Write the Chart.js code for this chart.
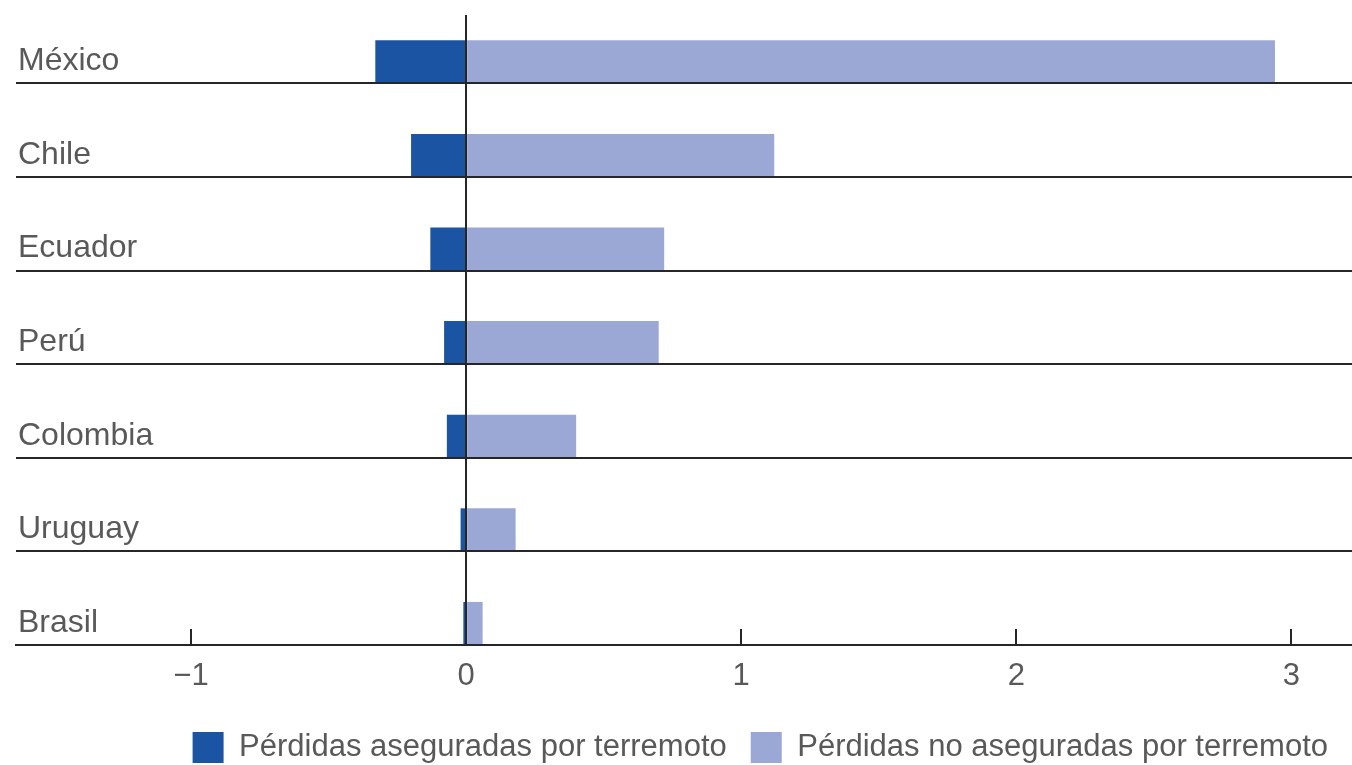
<!DOCTYPE html>
<html lang="es">
<head>
<meta charset="utf-8">
<title>Pérdidas por terremoto</title>
<script src="https://cdn.jsdelivr.net/npm/chart.js@4.4.1/dist/chart.umd.min.js"></script>
<style>
  html, body { margin: 0; padding: 0; background: #fff; }
  #wrap { width: 1352px; height: 765px; }
</style>
</head>
<body>
<div id="wrap"><canvas id="losses"></canvas></div>
<script>
const countries = ["México", "Chile", "Ecuador", "Perú", "Colombia", "Uruguay", "Brasil"];
const insured = [-0.33, -0.20, -0.13, -0.08, -0.07, -0.02, -0.01];
const uninsured = [2.94, 1.12, 0.72, 0.70, 0.40, 0.18, 0.06];
const xTicks = [-1, 0, 1, 2, 3];

const lineColor = "#262626";
const textColor = "#595959";

Chart.defaults.font.family = '"Liberation Sans", Arial, sans-serif';
Chart.defaults.color = textColor;

// bars sit on index i, the row line runs along the bottom edge of each bar
const barShare = 0.46;

new Chart(document.getElementById("losses"), {
    type: "bar",
    data: {
        datasets: [
            {
                label: "Pérdidas aseguradas por terremoto",
                data: countries.map((c, i) => ({ x: insured[i], y: i })),
                backgroundColor: "#1c54a4",
                borderWidth: 0,
            },
            {
                label: "Pérdidas no aseguradas por terremoto",
                data: countries.map((c, i) => ({ x: uninsured[i], y: i })),
                backgroundColor: "#9ba8d5",
                borderWidth: 0,
            },
        ],
    },
    options: {
        indexAxis: "y",
        responsive: true,
        maintainAspectRatio: false,
        animation: false,
        barPercentage: barShare,
        categoryPercentage: 1,
        layout: {
            padding: { top: 15, left: 16, right: 0, bottom: -8 },
        },
        plugins: {
            tooltip: { enabled: false },
            legend: {
                position: "bottom",
                align: "end",
                labels: {
                    boxWidth: 31,
                    boxHeight: 31,
                    padding: 24,
                    color: textColor,
                    font: { size: 31 },
                },
            },
        },
        scales: {
            x: {
                type: "linear",
                stacked: true,
                min: -1.636,
                max: 3.22,
                afterBuildTicks: (scale) => {
                    scale.ticks = xTicks.map((v) => ({ value: v }));
                },
                afterFit: (scale) => {
                    scale.height = 63;
                },
                border: { display: true, color: lineColor, width: 2, z: 1 },
                grid: {
                    z: 1,
                    lineWidth: 2,
                    color: (ctx) => (ctx.tick && ctx.tick.value === 0 ? lineColor : "rgba(0,0,0,0)"),
                    drawTicks: true,
                    tickLength: -16,
                    tickColor: lineColor,
                    tickWidth: 2,
                },
                ticks: {
                    autoSkip: false,
                    padding: 29,
                    color: textColor,
                    font: { size: 31 },
                    callback: (v) => (v < 0 ? "\u2212" + Math.abs(v) : String(v)),
                },
            },
            y: {
                type: "linear",
                stacked: true,
                reverse: true,
                offset: false,
                min: -0.5,
                max: countries.length - 1 + barShare / 2,
                afterBuildTicks: (scale) => {
                    scale.ticks = countries.map((c, i) => ({ value: i + barShare / 2 }));
                },
                afterFit: (scale) => {
                    scale.width = 0;
                    scale.paddingTop = 0;
                    scale.paddingBottom = 0;
                },
                border: { display: false },
                grid: {
                    z: 1,
                    offset: false,
                    lineWidth: 2,
                    color: lineColor,
                    drawTicks: false,
                },
                ticks: {
                    autoSkip: false,
                    mirror: true,
                    padding: 2,
                    labelOffset: -22,
                    color: textColor,
                    font: { size: 32 },
                    callback: (v, i) => countries[i],
                },
            },
        },
    },
});
</script>
</body>
</html>
